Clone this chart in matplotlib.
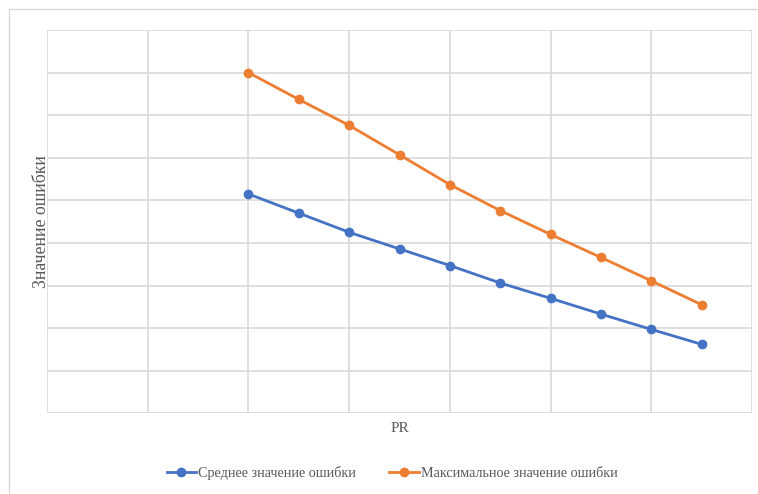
import matplotlib.pyplot as plt
from matplotlib.patches import Rectangle

# PR values and the two error series
pr = [2.0, 2.5, 3.0, 3.5, 4.0, 4.5, 5.0, 5.5, 6.0, 6.5]
mean_err = [5.15, 4.70, 4.25, 3.86, 3.47, 3.06, 2.70, 2.33, 1.97, 1.62]
max_err = [8.00, 7.37, 6.76, 6.07, 5.37, 4.76, 4.20, 3.66, 3.11, 2.55]

plt.rcParams["font.family"] = ["Liberation Serif", "DejaVu Serif"]

fig = plt.figure(figsize=(7.58, 4.94), dpi=100)
W, H = 758, 494
ax = fig.add_axes([47 / W, 1 - 413.3 / H, (752 - 47) / W, (413.3 - 30) / H])

# light frame around the chart area
fig.patches.append(Rectangle((9 / W, -0.01), 1.0, 1 - 9 / H + 0.01,
                             transform=fig.transFigure, fill=False,
                             edgecolor="#d9d9d9", linewidth=1))

ax.plot(pr, mean_err, color="#4472C4", linewidth=2, marker="o", markersize=6,
        label="Среднее значение ошибки")
ax.plot(pr, max_err, color="#ED7D31", linewidth=2, marker="o", markersize=6,
        label="Максимальное значение ошибки")

ax.set_xlim(0, 7)
ax.set_ylim(0, 9)
ax.set_xticks(range(0, 8))
ax.set_yticks(range(0, 10))
ax.tick_params(length=0, labelbottom=False, labelleft=False)
ax.grid(True, color="#d9d9d9", linewidth=1.2)
ax.set_axisbelow(True)
for s in ax.spines.values():
    s.set_visible(False)

ax.set_xlabel("PR", fontsize=11, color="#595959", labelpad=6)
ax.set_ylabel("Значение ошибки", fontsize=12.8, color="#595959")
ax.yaxis.set_label_coords(0.004, 0.5)

fig.legend(loc="center", bbox_to_anchor=(392 / W, 1 - 473 / H), ncol=2, frameon=False,
           fontsize=10.2, labelcolor="#595959", handlelength=2.1, handletextpad=0.15,
           columnspacing=2.3)

fig.savefig("out.png", dpi=100)
